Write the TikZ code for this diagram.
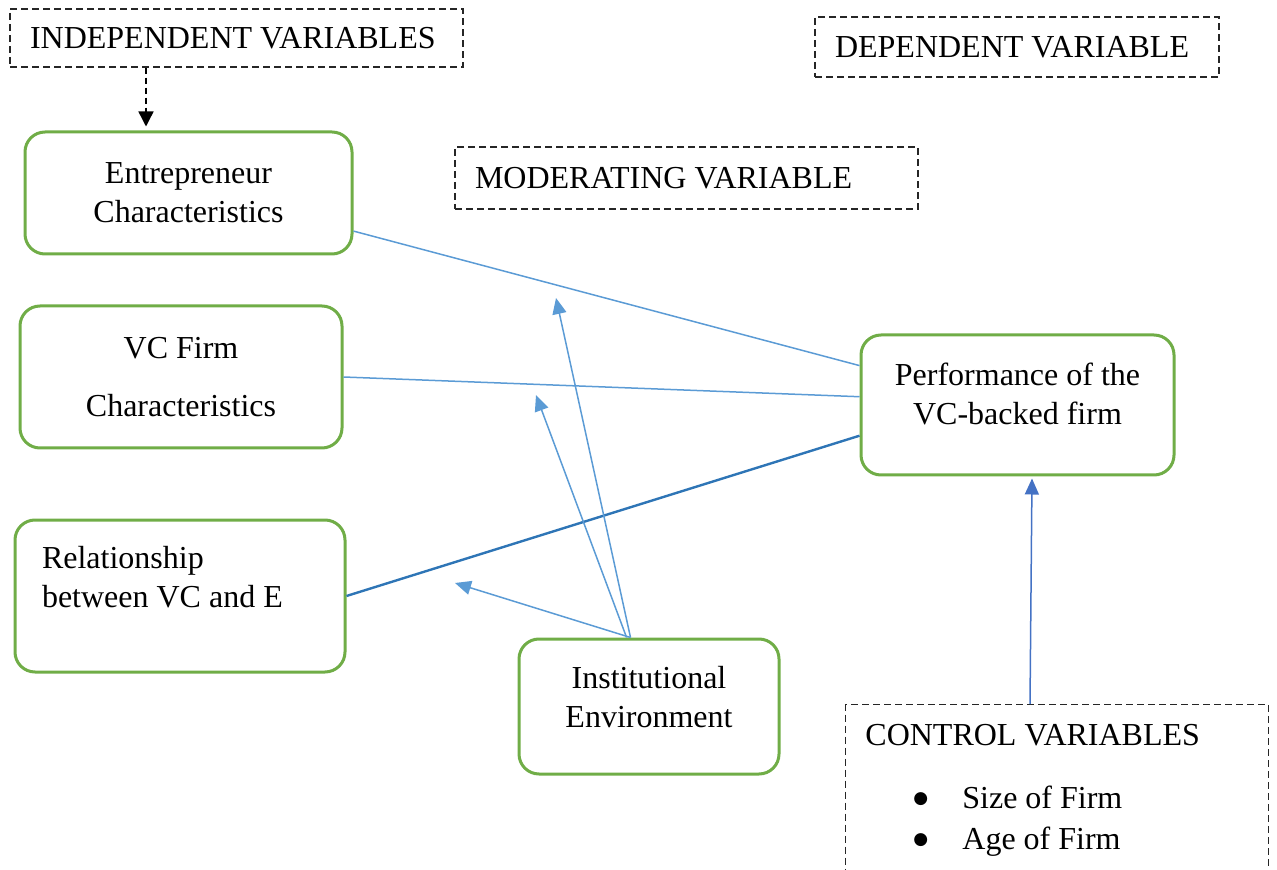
\documentclass[tikz,border=0pt]{standalone}
\usepackage{fontspec}
\setmainfont{Liberation Serif}
\newfontfamily\symfont{DejaVu Sans}
\usetikzlibrary{arrows.meta,positioning}
\definecolor{boxgreen}{HTML}{70AD47}
\definecolor{lineblue}{HTML}{5B9BD5}
\definecolor{darkblue}{HTML}{2E75B6}
\definecolor{ctrlblue}{HTML}{4472C4}
\newcommand{\bigbullet}{\makebox[25pt][l]{\hspace{0.5pt}\raisebox{2.2pt}{\fontsize{8.5}{8.5}\selectfont\symfont ●}}}

\begin{document}
\begin{tikzpicture}[x=0.5pt,y=-0.5pt,font=\fontsize{16}{19.5}\selectfont,
		var/.style={draw=boxgreen,line width=1.5pt,rounded corners=10pt,align=center},
		dashbox/.style={draw=black!85,line width=0.7pt,dash pattern=on 3.5pt off 2pt,align=flush left,inner xsep=10pt},
		link/.style={draw=lineblue,line width=0.75pt},
		modarrow/.style={draw=lineblue,line width=0.75pt,-{Triangle[length=8pt,width=7pt]}}]
		\useasboundingbox (0,0) rectangle (1277,870);

		\draw (236.5,38) node [dashbox,text width=206.5pt,minimum height=29pt] (indep) {INDEPENDENT VARIABLES};
		\draw (1017,47) node [dashbox,text width=182pt,minimum height=30pt] (dep) {DEPENDENT VARIABLE};
		\draw (686.5,178) node [dashbox,text width=211.5pt,minimum height=31pt] (moder) {MODERATING VARIABLE};

		\draw (188.5,193) node [var,minimum width=163.5pt,minimum height=61pt] (ent) {Entrepreneur\\Characteristics};
		\draw (181,377) node [var,minimum width=161pt,minimum height=71pt] (vcf) {VC Firm\\[9.5pt]Characteristics};
		\draw (180,596) node [var,align=flush left,text width=138pt,inner xsep=13.5pt,minimum height=76pt] (rel) {Relationship\\between VC and E\\~};
		\draw (649,706.5) node [var,minimum width=130pt,minimum height=67.5pt] (inst) {Institutional\\Environment\\[-10pt]~};
		\draw (1017.5,405) node [var,minimum width=156.5pt,minimum height=70pt] (perf) {Performance of the\\VC-backed firm\\[-8pt]~};

		\draw (845,704) node [dashbox,anchor=north west,minimum width=211.5pt,minimum height=100pt] (ctrl) {};
		\draw (865,745) node [anchor=base west,inner sep=0pt] (ctrltitle) {CONTROL VARIABLES};
		\draw (912,808) node [anchor=base west,inner sep=0pt] (size) {\bigbullet Size of Firm};
		\draw (912,849) node [anchor=base west,inner sep=0pt] (age) {\bigbullet Age of Firm};

		\coordinate (m1) at (556,298);
		\coordinate (m2) at (536,395);
		\coordinate (m3) at (455,583);

		\draw[black,line width=0.7pt,dash pattern=on 3pt off 2pt,-{Triangle[length=7.5pt,width=7.5pt]},shorten >=2pt]
			([xshift=-45.25pt]indep.south) -- ([xshift=-21.25pt]ent.north);

		\draw[link] (ent.-13) -- (perf.166);
		\draw[link] (vcf.east) -- (perf.177);
		\draw[draw=darkblue,line width=1.2pt] (rel.east) -- (perf.191);

		\draw[modarrow] (inst.105) -- (m1);
		\draw[modarrow] (inst.108) -- (m2);
		\draw[modarrow] (inst.105) -- (m3);

		\draw[draw=ctrlblue,line width=0.75pt,-{Triangle[length=8pt,width=7pt]},shorten >=1pt]
			([xshift=92.5pt]ctrl.north west) -- ([xshift=7.25pt]perf.south);
	\end{tikzpicture}
\end{document}
